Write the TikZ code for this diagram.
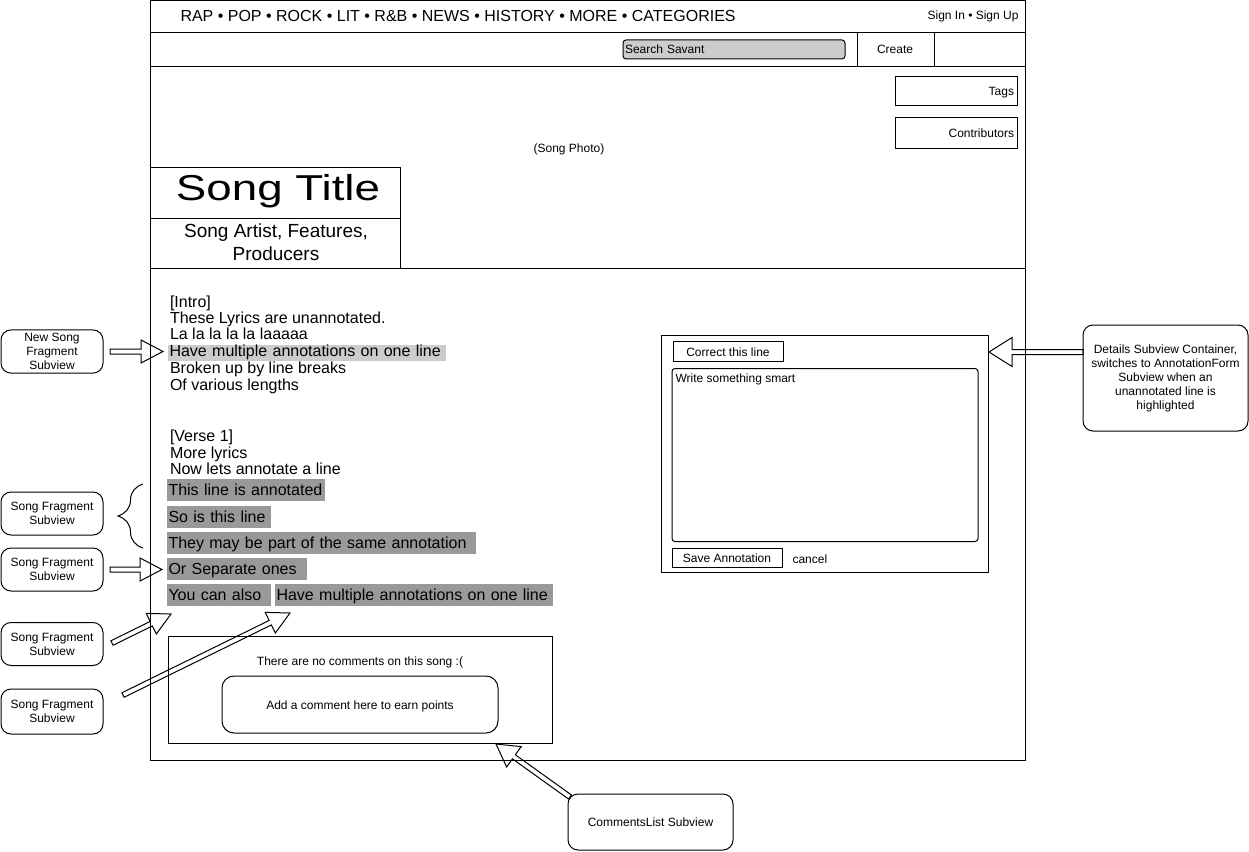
\documentclass[tikz,border=0pt]{standalone}
\usepackage{fontspec}
\setmainfont{Liberation Sans}
\usepackage{graphicx}
\usetikzlibrary{calc, decorations.pathreplacing}

\newcommand{\smallFont}{\fontsize{12pt}{14pt}\selectfont}
\newcommand{\lyricFont}{\fontsize{16pt}{17pt}\selectfont}
\newcommand{\artistFont}{\fontsize{19pt}{22.5pt}\selectfont}
\newcommand{\titleFont}{\fontsize{36pt}{38pt}\selectfont}

\tikzstyle{pageFrame} = [draw=black, line width=1pt]
\tikzstyle{box} = [rectangle, draw=black, line width=1pt, inner sep=0pt, text height=9pt, text depth=0pt, font=\smallFont]
\tikzstyle{noteBox} = [rectangle, rounded corners=10pt, draw=black, line width=1pt, minimum width=102pt, minimum height=43pt, align=center, font=\smallFont]
\tikzstyle{plainText} = [inner sep=0pt, anchor=base, font=\smallFont]
\tikzstyle{lyric} = [inner sep=0pt, anchor=base west, font=\lyricFont]
\tikzstyle{annotated} = [rectangle, anchor=north west, fill=black!40, inner xsep=2pt, inner ysep=0pt, minimum height=22pt, text height=14pt, text depth=2pt, align=left, font=\lyricFont]
\tikzstyle{unannotated} = [annotated, fill=black!20, minimum height=16pt, text height=12pt, text depth=4pt]
\tikzstyle{curly} = [decorate, decoration={brace, amplitude=25pt}, line width=1pt]

\tikzset{
  shaftHalf/.store in=\shaftHalf, shaftHalf=2.5pt,
  headHalf/.store in=\headHalf, headHalf=11.5pt,
  headLength/.store in=\headLength, headLength=22pt,
  blockArrow/.style={draw=black, line width=1pt, to path={
    ($(\tikztotarget)!\headLength!(\tikztostart)$) coordinate (headBase)
    ($(\tikztostart)!\shaftHalf!90:(\tikztotarget)$)
    -- ($(headBase)!\shaftHalf!90:(\tikztotarget)$)
    -- ($(headBase)!\headHalf!90:(\tikztotarget)$)
    -- (\tikztotarget)
    -- ($(headBase)!\headHalf!-90:(\tikztotarget)$)
    -- ($(headBase)!\shaftHalf!-90:(\tikztotarget)$)
    -- ($(\tikztostart)!\shaftHalf!-90:(\tikztotarget)$) -- cycle}}
}

\begin{document}
\begin{tikzpicture}[x=1pt, y=-1pt, line width=1pt]
\useasboundingbox (0,0) rectangle (1249,851);

% page
\draw [pageFrame] (150,1) rectangle (1025,760);
\draw [pageFrame] (150,33) -- (1025,33);
\draw [pageFrame] (150,66) -- (1025,66);
\draw [pageFrame] (857,33) -- (857,66);
\draw [pageFrame] (934,33) -- (934,66);
\draw [pageFrame] (150,167) rectangle (400,268);
\draw [pageFrame] (150,218) -- (400,218);
\draw [pageFrame] (400,268) -- (1025,268);

% header
\node (navLinks) [lyric] at (180,21.5) {RAP • POP • ROCK • LIT • R\&B • NEWS • HISTORY • MORE • CATEGORIES};
\node (signIn) [plainText, anchor=base east] at (1019,20) {Sign In • Sign Up};
\node (search) [box, rounded corners=3pt, fill=black!20, minimum width=222pt, minimum height=19pt, text width=218pt, align=left] at (734,49.5) {Search Savant};
\node (create) [plainText] at (895,53) {Create};
\node (tags) [box, minimum width=122pt, minimum height=29pt, text width=116pt, align=right] at (956,91) {Tags};
\node (contributors) [box, minimum width=122pt, minimum height=31pt, text width=116pt, align=right] at (956,132.5) {Contributors};
\node (songPhoto) [plainText] at (569,152) {(Song Photo)};

% title block
\node (songTitle) [inner sep=0pt, anchor=base, font=\titleFont] at (278,200) {\scalebox{1.27}[1]{Song Title}};
\node (songArtist) [inner sep=0pt, align=center, font=\artistFont] at (276,242) {Song Artist, Features,\\Producers};

% lyrics
\node (intro) [lyric] at (169.5,307.5) {[Intro]};
\node (introA) [lyric] at (169.5,323.5) {These Lyrics are unannotated.};
\node (introB) [lyric] at (169.5,339.5) {La la la la la laaaaa};
\node (newLine) [unannotated, text width=274pt] at (167,344) {Have multiple annotations on one line};
\node (introC) [lyric] at (169.5,373) {Broken up by line breaks};
\node (introD) [lyric] at (169.5,390) {Of various lengths};
\node (verse) [lyric] at (169.5,441.5) {[Verse 1]};
\node (verseA) [lyric] at (169.5,458) {More lyrics};
\node (verseB) [lyric] at (169.5,474.5) {Now lets annotate a line};

\node (lineA) [annotated, text width=154pt] at (166,478) {\mbox{This line is annotated}};
\node (lineB) [annotated, text width=100pt] at (166,505) {So is this line};
\node (lineC) [annotated, text width=305pt] at (166,531) {They may be part of the same annotation};
\node (lineD) [annotated, text width=136pt] at (166,557) {Or Separate ones};
\node (lineE) [annotated, text width=100pt] at (166,583) {You can also};
\node (lineF) [annotated, text width=274pt] at (274,583) {Have multiple annotations on one line};

% details subview
\node (details) [box, minimum width=327pt, minimum height=237pt] at (825,453.5) {};
\node (correctLine) [box, minimum width=110pt, minimum height=20pt] at (728,351.5) {Correct this line};
\node (answerArea) [box, rounded corners=3pt, minimum width=306pt, minimum height=173pt] at (825,455) {};
\node (answerHint) [plainText, anchor=base west] at (675,382.5) {Write something smart};
\node (saveAnnotation) [box, minimum width=110pt, minimum height=19pt] at (727,558) {Save Annotation};
\node (cancel) [plainText, anchor=base west] at (792,563) {cancel};

% comments
\node (comments) [box, minimum width=384pt, minimum height=107pt] at (360.5,689.5) {};
\node (noComments) [plainText] at (360,665) {There are no comments on this song :(};
\node (addComment) [box, rounded corners=12pt, minimum width=276pt, minimum height=57pt] at (360,704.5) {Add a comment here to earn points};

% notes
\node (newFrag) [noteBox] at (52,351.5) {New Song\\Fragment\\Subview};
\node (fragA) [noteBox] at (52,513.5) {Song Fragment\\Subview};
\node (fragB) [noteBox] at (52,569.5) {Song Fragment\\Subview};
\node (fragC) [noteBox] at (52,644) {Song Fragment\\Subview};
\node (fragD) [noteBox, minimum height=45pt] at (52,711.5) {Song Fragment\\Subview};
\node (detailsNote) [noteBox, minimum width=165pt, minimum height=106pt] at (1165.5,378) {Details Subview Container,\\switches to AnnotationForm\\Subview when an\\unannotated line is\\highlighted};
\node (commentsNote) [noteBox, minimum width=165pt, minimum height=56pt] at (650.5,822) {CommentsList Subview};

% arrows
\coordinate (newFragTail) at (110,351.5);
\coordinate (newFragTip) at (163,351.5);
\coordinate (fragBTail) at (110,569.5);
\coordinate (fragBTip) at (162,569.5);
\coordinate (fragCTail) at (112,643);
\coordinate (fragCTip) at (171,614);
\coordinate (fragDTail) at (123,695);
\coordinate (fragDTip) at (290,613);
\coordinate (detailsTail) at (1083,352);
\coordinate (detailsTip) at (989,352);
\coordinate (commentsTail) at (570,797);
\coordinate (commentsTip) at (496,744);

\draw [blockArrow] (newFragTail) to (newFragTip);
\draw [blockArrow] (fragBTail) to (fragBTip);
\draw [blockArrow] (fragCTail) to (fragCTip);
\draw [blockArrow] (fragDTail) to (fragDTip);
\draw [blockArrow, headHalf=14.5pt, headLength=23pt] (detailsTail) to (detailsTip);
\draw [blockArrow, headHalf=12.5pt] (commentsTail) to (commentsTip);

% brace
\coordinate (braceBottom) at (143,548);
\coordinate (braceTop) at (143,484);
\draw [curly] (braceBottom) -- (braceTop);
\end{tikzpicture}
\end{document}
